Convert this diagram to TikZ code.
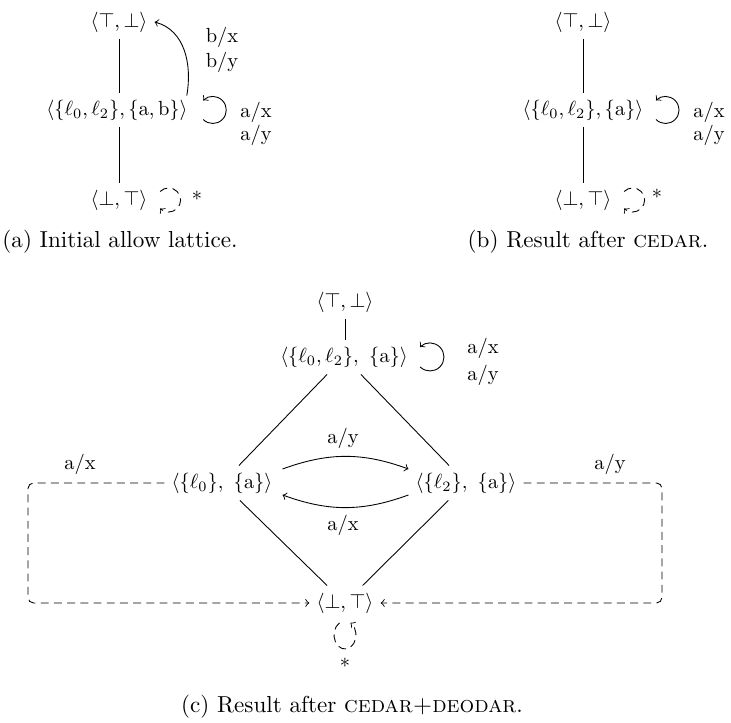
\documentclass[tikz,border=0pt]{standalone}
\usetikzlibrary{calc}
\begin{document}
\begin{tikzpicture}[x=0.4545pt,y=0.4545pt,
  every node/.style={scale=0.93},
  lbl/.style={inner sep=0pt},
  captxt/.style={scale=1.13},
  dsh/.style={dash pattern=on 3.6pt off 2.4pt},
  ]
\useasboundingbox (0,0) rectangle (731,723);
% ---------------- (a)
\node (at) at (119,701) {$\langle\top,\bot\rangle$};
\node (am) at (117,613) {$\langle\{\ell_0,\ell_2\},\{\mathrm{a},\mathrm{b}\}\rangle$};
\node (ab) at (119,523) {$\langle\bot,\top\rangle$};
\draw (at.south) -- (at.south |- am.north);
\draw (ab.north) -- (ab.north |- am.south);
\draw[->] ($(am.east)+(8.45,-9.55)$) arc[start angle=-135,end angle=135,radius=13.5];
\draw[->] ($(am.north east)+(-8,-3)$) to[out=80,in=-15] (at.east);
\node[lbl] (abx) at (222,686) {b/x};
\node[lbl] (aby) at (222,661) {b/y};
\node[lbl] (aax) at (256,611) {a/x};
\node[lbl] (aay) at (256,588) {a/y};
\draw[dsh,->] ($(ab.east)+(5.5,8.5)$) arc[start angle=135,end angle=-135,radius=12];
\node[lbl] (aast) at (197,524) {*};
\node[captxt] (capa) at (120,481) {(a) Initial allow lattice.};
% ---------------- (b)
\node (bt) at (583,701) {$\langle\top,\bot\rangle$};
\node (bm) at (583,613) {$\langle\{\ell_0,\ell_2\},\{\mathrm{a}\}\rangle$};
\node (bb) at (583,523) {$\langle\bot,\top\rangle$};
\draw (bt.south) -- (bt.south |- bm.north);
\draw (bb.north) -- (bb.north |- bm.south);
\draw[->] ($(bm.east)+(5.45,-9.55)$) arc[start angle=-135,end angle=135,radius=13.5];
\node[lbl] (bax) at (709,611) {a/x};
\node[lbl] (bay) at (709,588) {a/y};
\draw[dsh,->] ($(bb.east)+(5.5,8.5)$) arc[start angle=135,end angle=-135,radius=12];
\node[lbl] (bast) at (657,526) {*};
\node[captxt] (capb) at (588,481) {(b) Result after \textsc{cedar}.};
% ---------------- (c)
\node (ct) at (345,421) {$\langle\top,\bot\rangle$};
\node (cm) at (344,366) {$\langle\{\ell_0,\ell_2\},\ \{\mathrm{a}\}\rangle$};
\node (cl) at (222,240) {$\langle\{\ell_0\},\ \{\mathrm{a}\}\rangle$};
\node (cr) at (466,240) {$\langle\{\ell_2\},\ \{\mathrm{a}\}\rangle$};
\node (cb) at (345,120) {$\langle\bot,\top\rangle$};
\draw (ct.south) -- (ct.south |- cm.north);
\draw (cm) -- (cl);
\draw (cm) -- (cr);
\draw (cl) -- (cb);
\draw (cr) -- (cb);
\draw[->] ($(cm.east)+(5.1,-9.9)$) arc[start angle=-135,end angle=135,radius=14];
\node[lbl] (cax) at (483,375) {a/x};
\node[lbl] (cay) at (483,348) {a/y};
\draw[->] ($(cl.east)+(3,14)$) to[bend left=20] ($(cr.west)+(0,14)$);
\draw[->] ($(cr.west)+(0,-12)$) to[bend left=20] ($(cl.east)+(3,-12)$);
\node[lbl] (cay2) at (343,285) {a/y};
\node[lbl] (cax2) at (343,198) {a/x};
\coordinate (lw) at (28,0);
\coordinate (rw) at (662,0);
\draw[dsh,->,rounded corners=2.5pt] (cl.west) -- (cl.west -| lw) -- (cb.west -| lw) -- (cb.west);
\draw[dsh,->,rounded corners=2.5pt] (cr.east) -- (cr.east -| rw) -- (cb.east -| rw) -- (cb.east);
\node[lbl] (cax3) at (80,259) {a/x};
\node[lbl] (cay3) at (610,259) {a/y};
\draw[dsh,->] ($(cb)+(-5.5,-19.9)$) arc[start angle=120,end angle=420,x radius=11,y radius=14];
\node[lbl] (cast) at (345,57) {*};
\node[captxt] (capc) at (352,16) {(c) Result after \textsc{cedar+deodar}.};
\end{tikzpicture}
\end{document}
